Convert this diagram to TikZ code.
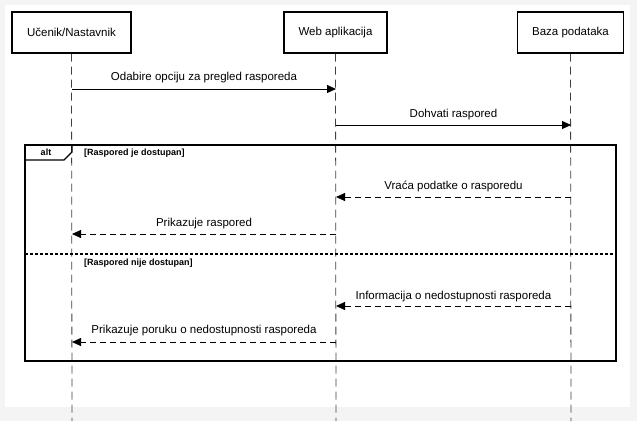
\documentclass[tikz,border=0pt]{standalone}
\usepackage{fontspec}
\setmainfont{Liberation Sans}
\usetikzlibrary{arrows.meta}
\definecolor{bggray}{RGB}{244,244,244}
\tikzset{
  actor/.style={draw, line width=1.4pt, minimum height=41pt, inner sep=0pt, font=\fontsize{11.5}{13}\selectfont},
  lifeline/.style={line width=0.8pt, dash pattern=on 8pt off 5pt, draw=black!75},
  msg/.style={line width=0.8pt, -{Triangle[length=9pt,width=8pt]}},
  ret/.style={msg, dash pattern=on 6pt off 4pt},
  lbl/.style={font=\fontsize{11.5}{13}\selectfont, inner sep=0pt},
  cond/.style={font=\bfseries\fontsize{9}{10}\selectfont, inner sep=0pt, anchor=west},
  frame/.style={line width=1.4pt}
}
\begin{document}
\begin{tikzpicture}[x=1pt,y=-1pt]
\useasboundingbox (0,0) rectangle (637,421);
\fill[bggray] (0,0) rectangle (637,421);
\fill[white] (5,5) rectangle (630,407);

% actors
\node[actor, minimum width=119pt] (u) at (71.5,32.5) {Učenik/Nastavnik};
\node[actor, minimum width=103pt] (w) at (335.5,32.5) {Web aplikacija};
\node[actor, minimum width=106pt] (b) at (570.5,32.5) {Baza podataka};

% lifeline ends
\coordinate (ue) at (72,421);
\coordinate (we) at (336,421);
\coordinate (be) at (571,421);
\draw[lifeline] (u.south) -- (ue);
\draw[lifeline] (w.south) -- (we);
\draw[lifeline] (b.south) -- (be);

% message points
\coordinate (u1) at (72,89);  \coordinate (w1) at (336,89);
\coordinate (w2) at (336,125); \coordinate (b2) at (571,125);
\coordinate (b3) at (571,197); \coordinate (w3) at (336,197);
\coordinate (w4) at (336,234); \coordinate (u4) at (72,234);
\coordinate (b5) at (571,306); \coordinate (w5) at (336,306);
\coordinate (w6) at (336,342); \coordinate (u6) at (72,342);

\draw[msg] (u1) -- node[lbl, above=6pt] (m1) {Odabire opciju za pregled rasporeda} (w1);
\draw[msg] (w2) -- node[lbl, above=5pt] (m2) {Dohvati raspored} (b2);

% alt frame
\coordinate (fa) at (25,145);
\coordinate (fb) at (616,361);
\draw[frame] (fa) rectangle (fb);
\draw[line width=1.2pt] (25,160) -- (64,160) -- (72,152) -- (72,145);
\node[font=\bfseries\fontsize{9}{10}\selectfont, inner sep=0pt] (alt) at (46,152.5) {alt};
\node[cond] (c1) at (84,153) {[Raspored je dostupan]};
\draw[line width=1.2pt, dash pattern=on 3pt off 2pt] (25,254) -- (616,254);
\node[cond] (c2) at (84,263) {[Raspored nije dostupan]};

\draw[ret] (b3) -- node[lbl, above=5pt] (m3) {Vraća podatke o rasporedu} (w3);
\draw[ret] (w4) -- node[lbl, above=5pt] (m4) {Prikazuje raspored} (u4);
\draw[ret] (b5) -- node[lbl, above=4pt] (m5) {Informacija o nedostupnosti rasporeda} (w5);
\draw[ret] (w6) -- node[lbl, above=6pt] (m6) {Prikazuje poruku o nedostupnosti rasporeda} (u6);
\end{tikzpicture}
\end{document}
